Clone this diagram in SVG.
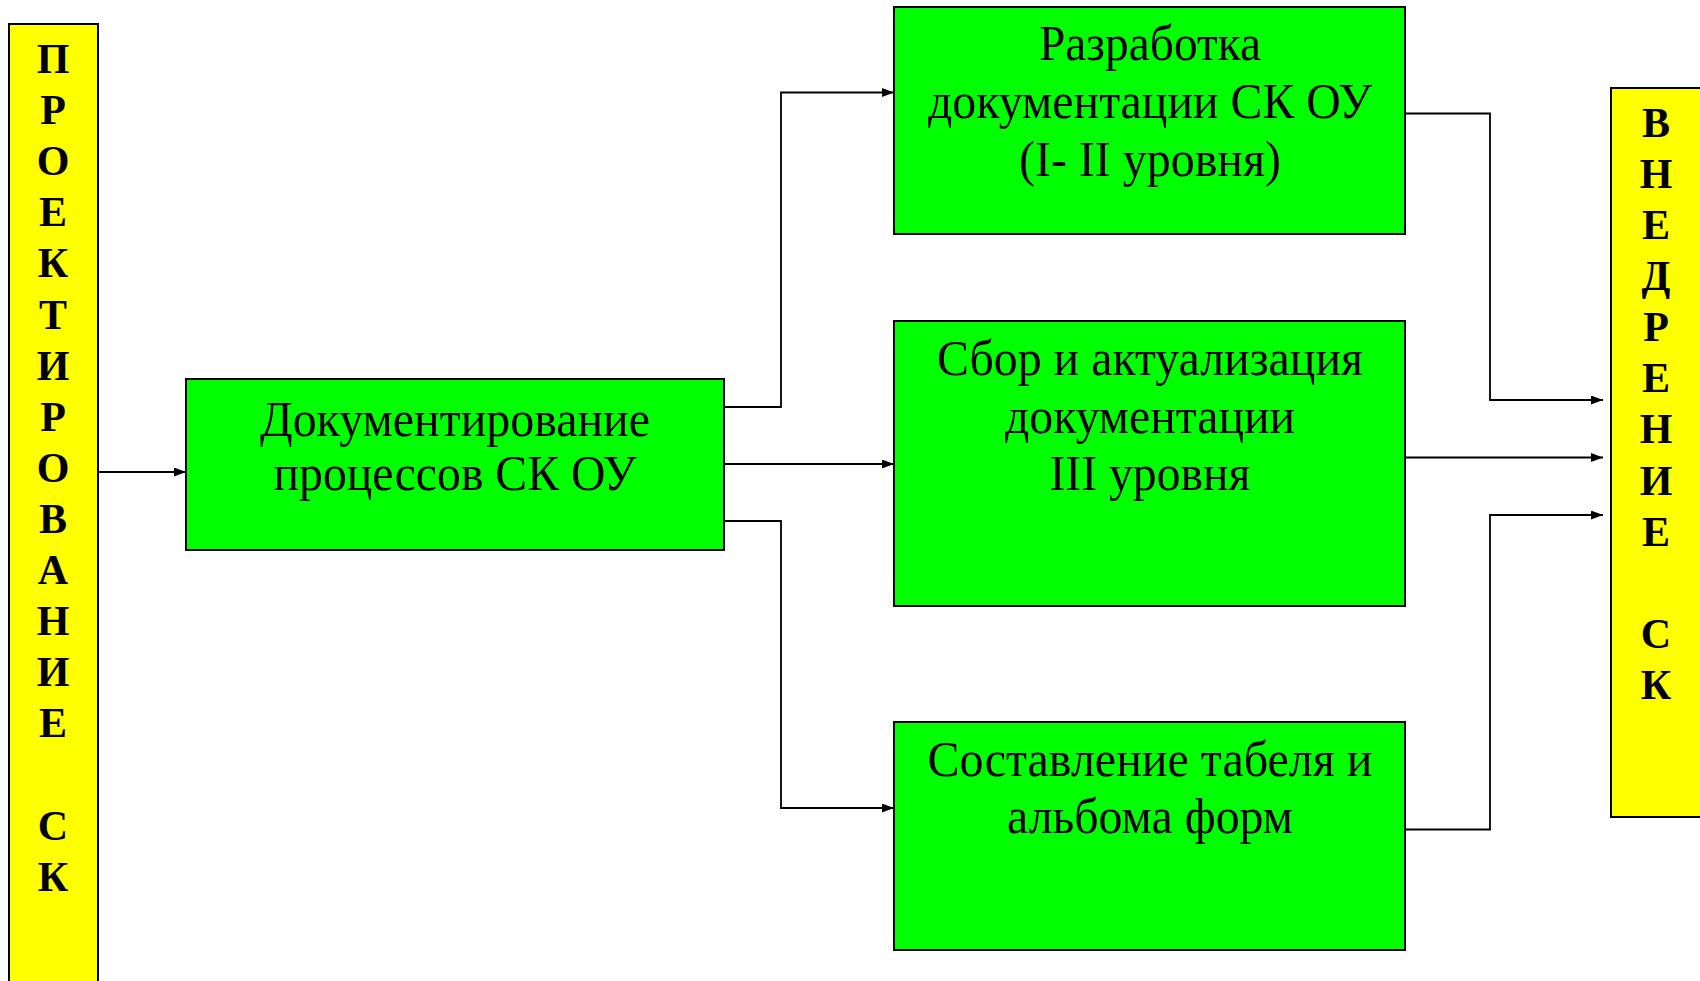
<svg xmlns="http://www.w3.org/2000/svg" width="1700" height="981" viewBox="0 0 1700 981">
<style>
.yb{fill:#ffff00;stroke:#000;stroke-width:2}
.gb{fill:#00ff00;stroke:#000;stroke-width:2}
.yt{font-family:"Liberation Serif","Times New Roman",serif;font-weight:bold;font-size:42px;fill:#000;text-anchor:middle}
.gt{font-family:"Liberation Serif","Times New Roman",serif;font-size:50px;fill:#000;text-anchor:middle}
.mt{font-family:"Liberation Serif","Times New Roman",serif;font-size:51px;fill:#000;text-anchor:middle}
.c{fill:none;stroke:#000;stroke-width:1.8;marker-end:url(#ah)}
</style>
<defs>
<marker id="ah" markerUnits="userSpaceOnUse" markerWidth="12" markerHeight="9" refX="12" refY="4.5" orient="auto">
<path d="M0,0 L12,4.5 L0,9 z" fill="#000"/>
</marker>
</defs>
<rect width="1700" height="981" fill="#fff"/>
<g id="proektirovanie">
<rect class="yb" x="9" y="24" width="89" height="970"/>
<text class="yt" x="53" y="73">П</text>
<text class="yt" x="53" y="124">Р</text>
<text class="yt" x="53" y="175">О</text>
<text class="yt" x="53" y="226">Е</text>
<text class="yt" x="53" y="277">К</text>
<text class="yt" x="53" y="329">Т</text>
<text class="yt" x="53" y="380">И</text>
<text class="yt" x="53" y="431">Р</text>
<text class="yt" x="53" y="482">О</text>
<text class="yt" x="53" y="533">В</text>
<text class="yt" x="53" y="584">А</text>
<text class="yt" x="53" y="635">Н</text>
<text class="yt" x="53" y="686">И</text>
<text class="yt" x="53" y="737">Е</text>
<text class="yt" x="53" y="840">С</text>
<text class="yt" x="53" y="891">К</text>
</g>
<g id="vnedrenie">
<rect class="yb" x="1611" y="88" width="100" height="729"/>
<text class="yt" x="1656" y="137">В</text>
<text class="yt" x="1656" y="188">Н</text>
<text class="yt" x="1656" y="239">Е</text>
<text class="yt" x="1656" y="290">Д</text>
<text class="yt" x="1656" y="341">Р</text>
<text class="yt" x="1656" y="392">Е</text>
<text class="yt" x="1656" y="443">Н</text>
<text class="yt" x="1656" y="495">И</text>
<text class="yt" x="1656" y="546">Е</text>
<text class="yt" x="1656" y="648">С</text>
<text class="yt" x="1656" y="699">К</text>
</g>
<g id="dokumentirovanie">
<rect class="gb" x="186" y="379" width="538" height="171"/>
<text class="mt" x="455" y="436" textLength="390" lengthAdjust="spacingAndGlyphs">Документирование</text>
<text class="mt" x="455" y="490" textLength="363" lengthAdjust="spacingAndGlyphs">процессов СК ОУ</text>
</g>
<g id="razrabotka">
<rect class="gb" x="894" y="7" width="511" height="227"/>
<text class="gt" x="1150" y="60" textLength="222" lengthAdjust="spacingAndGlyphs">Разработка</text>
<text class="gt" x="1150" y="118" textLength="444" lengthAdjust="spacingAndGlyphs">документации СК ОУ</text>
<text class="gt" x="1150" y="176" textLength="262" lengthAdjust="spacingAndGlyphs">(I- II уровня)</text>
</g>
<g id="sbor">
<rect class="gb" x="894" y="321" width="511" height="285"/>
<text class="gt" x="1150" y="375" textLength="426" lengthAdjust="spacingAndGlyphs">Сбор и актуализация</text>
<text class="gt" x="1150" y="433" textLength="290" lengthAdjust="spacingAndGlyphs">документации</text>
<text class="gt" x="1150" y="490" textLength="201" lengthAdjust="spacingAndGlyphs">III уровня</text>
</g>
<g id="sostavlenie">
<rect class="gb" x="894" y="722" width="511" height="228"/>
<text class="gt" x="1150" y="776" textLength="445" lengthAdjust="spacingAndGlyphs">Составление табеля и</text>
<text class="gt" x="1150" y="833" textLength="286" lengthAdjust="spacingAndGlyphs">альбома форм</text>
</g>
<g id="connectors">
<path class="c" d="M98,472 H186"/>
<path class="c" d="M724,407 H781 V92.5 H894"/>
<path class="c" d="M724,464 H894"/>
<path class="c" d="M724,521 H781 V808 H894"/>
<path class="c" d="M1405,113.5 H1490 V400 H1603"/>
<path class="c" d="M1405,457.5 H1603"/>
<path class="c" d="M1405,829.5 H1490 V515 H1603"/>
</g>
</svg>
